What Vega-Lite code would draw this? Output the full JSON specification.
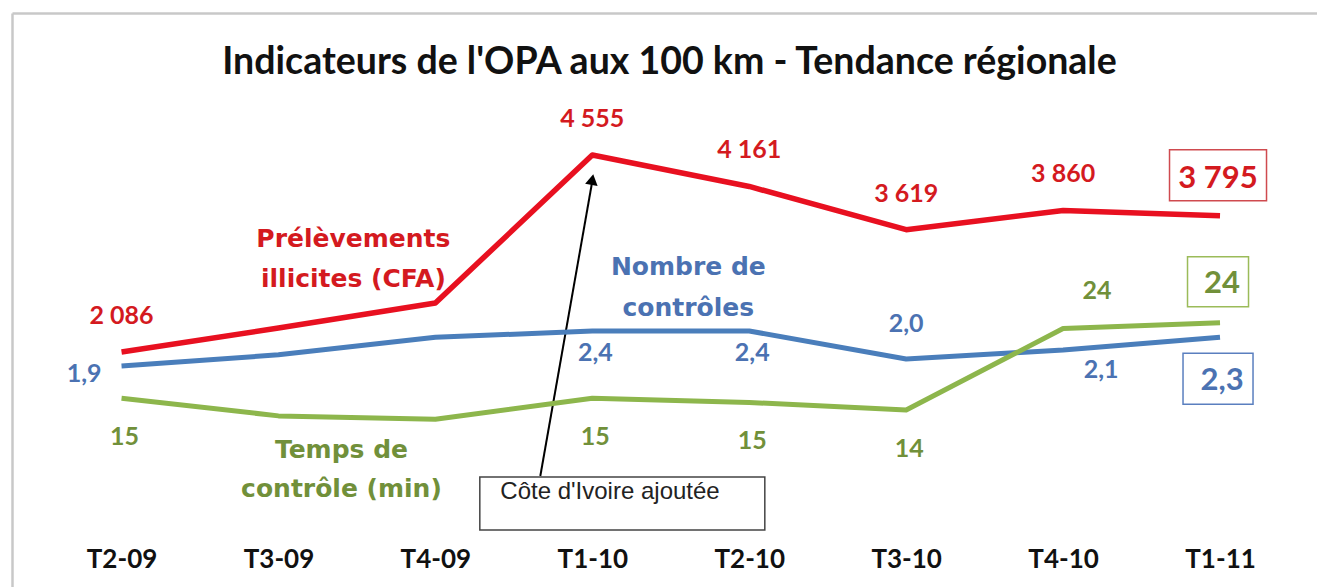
{
  "$schema": "https://vega.github.io/schema/vega-lite/v6.json",
  "width": 1305,
  "height": 574,
  "autosize": {"type": "none"},
  "padding": {"left": 12, "top": 13, "right": 0, "bottom": 0},
  "background": "white",
  "title": {"text": "Indicateurs de l'OPA aux 100 km - Tendance régionale", "font": "Lato", "fontSize": 37.5, "fontWeight": "bold", "color": "#111111", "anchor": "middle", "frame": "group", "offset": -68, "dx": 5},
  "config": {
    "view": {"stroke": null},
    "axis": {"grid": false},
    "locale": {"number": {"decimal": ",", "thousands": " ", "grouping": [3], "currency": ["", " €"]}}
  },
  "datasets": {
    "opa": [
      {"period": "T2-09", "i": 0, "prelevements": 2086, "nombre": 1.9, "temps": 15.4},
      {"period": "T3-09", "i": 1, "prelevements": 2387, "nombre": 2.06, "temps": 13.3},
      {"period": "T4-09", "i": 2, "prelevements": 2700, "nombre": 2.31, "temps": 12.9},
      {"period": "T1-10", "i": 3, "prelevements": 4555, "nombre": 2.4, "temps": 15.4},
      {"period": "T2-10", "i": 4, "prelevements": 4161, "nombre": 2.4, "temps": 14.9},
      {"period": "T3-10", "i": 5, "prelevements": 3619, "nombre": 2.0, "temps": 14.0},
      {"period": "T4-10", "i": 6, "prelevements": 3860, "nombre": 2.13, "temps": 23.7},
      {"period": "T1-11", "i": 7, "prelevements": 3795, "nombre": 2.31, "temps": 24.4}
    ]
  },
  "data": {"name": "opa"},
  "layer": [
    {
      "encoding": {
        "x": {"field": "i", "type": "quantitative", "scale": {"domain": [-0.698, 7.618], "nice": false, "zero": false},
              "axis": {"orient": "top", "domain": true, "domainColor": "#c8c8c8", "domainWidth": 2.5, "labels": false, "ticks": false, "grid": false, "title": null}},
        "y": {"field": "prelevements", "type": "quantitative", "scale": {"domain": [-859, 6335], "nice": false, "zero": false},
              "axis": {"orient": "left", "domain": true, "domainColor": "#c8c8c8", "domainWidth": 2.5, "labels": false, "ticks": false, "grid": false, "title": null}}
      },
      "layer": [
        {"mark": {"type": "line", "color": "#e81020", "strokeWidth": 5.5, "strokeJoin": "round"}},
        {"transform": [{"filter": "datum.i == 0 || (datum.i >= 3 && datum.i <= 6)"}],
         "mark": {"type": "text", "font": "Lato", "fontWeight": "bold", "fontSize": 25, "color": "#d41a1f", "align": "center", "baseline": "alphabetic", "dy": -28},
         "encoding": {"text": {"field": "prelevements", "format": ",d"}}},
        {"transform": [{"filter": "datum.i == 7"}],
         "mark": {"type": "rect", "width": 97, "height": 51, "fill": "white", "stroke": "#cf4a4f", "strokeWidth": 1.5, "xOffset": -2, "yOffset": -40.5}},
        {"transform": [{"filter": "datum.i == 7"}],
         "mark": {"type": "text", "font": "Lato", "fontWeight": "bold", "fontSize": 31, "color": "#d41a1f", "align": "center", "baseline": "alphabetic", "dy": -28, "dx": -2},
         "encoding": {"text": {"field": "prelevements", "format": ",d"}}},
        {"transform": [{"filter": "datum.i == 2"}],
         "mark": {"type": "text", "font": "DejaVu Sans", "fontWeight": "bold", "fontSize": 25, "color": "#d41a1f", "align": "center", "baseline": "alphabetic", "dx": -82, "dy": -56, "lineHeight": 40, "text": ["Prélèvements", "illicites (CFA)"]}},
        {"transform": [{"filter": "datum.i == 3"}],
         "mark": {"type": "rect", "width": 285, "height": 53, "fill": "white", "stroke": "#444444", "strokeWidth": 1.5, "xOffset": 30, "yOffset": 348.5}},
        {"transform": [{"filter": "datum.i == 3"}],
         "mark": {"type": "text", "font": "Liberation Sans", "fontSize": 24, "color": "#222222", "align": "left", "baseline": "alphabetic", "dx": -92, "dy": 344, "text": "Côte d'Ivoire ajoutée"}},
        {"transform": [{"filter": "datum.i == 3"}],
         "mark": {"type": "rule", "color": "black", "strokeWidth": 2, "xOffset": 0, "yOffset": 26, "x2Offset": -52, "y2Offset": 321},
         "encoding": {"x2": {"field": "i"}, "y2": {"field": "prelevements"}}},
        {"transform": [{"filter": "datum.i == 3"}],
         "mark": {"type": "point", "shape": "triangle-up", "size": 160, "filled": true, "color": "black", "opacity": 1, "angle": 10, "yOffset": 24.5}}
      ]
    },
    {
      "encoding": {
        "x": {"field": "i", "type": "quantitative", "scale": {"domain": [-0.698, 7.618], "nice": false, "zero": false},
              "axis": {"orient": "bottom", "domain": false, "ticks": false, "tickSize": 0, "grid": false, "title": null, "offset": -20, "labelPadding": 0,
                       "values": [0, 1, 2, 3, 4, 5, 6, 7], "labelExpr": "['T2-09','T3-09','T4-09','T1-10','T2-10','T3-10','T4-10','T1-11'][datum.value]",
                       "labelFont": "Lato", "labelFontSize": 26, "labelFontWeight": "bold", "labelColor": "#111111", "labelBaseline": "alphabetic",
                       "labelFlush": false, "labelOverlap": false, "labelBound": false}},
        "y": {"field": "nombre", "type": "quantitative", "scale": {"domain": [-1.257, 6.943], "nice": false, "zero": false}, "axis": null}
      },
      "layer": [
        {"mark": {"type": "line", "color": "#4a7ebb", "strokeWidth": 5, "strokeJoin": "round"}},
        {"transform": [{"filter": "datum.i == 0"}],
         "mark": {"type": "text", "font": "Lato", "fontWeight": "bold", "fontSize": 25, "color": "#4b72b2", "align": "right", "baseline": "alphabetic", "dx": -20, "dy": 16},
         "encoding": {"text": {"field": "nombre", "format": ".1f"}}},
        {"transform": [{"filter": "datum.i == 3 || datum.i == 4"}],
         "mark": {"type": "text", "font": "Lato", "fontWeight": "bold", "fontSize": 25, "color": "#4b72b2", "align": "center", "baseline": "alphabetic", "dx": 3, "dy": 29.5},
         "encoding": {"text": {"field": "nombre", "format": ".1f"}}},
        {"transform": [{"filter": "datum.i == 5"}],
         "mark": {"type": "text", "font": "Lato", "fontWeight": "bold", "fontSize": 25, "color": "#4b72b2", "align": "center", "baseline": "alphabetic", "dy": -27},
         "encoding": {"text": {"field": "nombre", "format": ".1f"}}},
        {"transform": [{"filter": "datum.i == 6"}],
         "mark": {"type": "text", "font": "Lato", "fontWeight": "bold", "fontSize": 25, "color": "#4b72b2", "align": "center", "baseline": "alphabetic", "dx": 38, "dy": 28},
         "encoding": {"text": {"field": "nombre", "format": ".1f"}}},
        {"transform": [{"filter": "datum.i == 7"}],
         "mark": {"type": "rect", "width": 70, "height": 51, "fill": "white", "stroke": "#5a7fbf", "strokeWidth": 1.5, "xOffset": -2, "yOffset": 41.5}},
        {"transform": [{"filter": "datum.i == 7"}],
         "mark": {"type": "text", "font": "Lato", "fontWeight": "bold", "fontSize": 31, "color": "#4b72b2", "align": "center", "baseline": "alphabetic", "dx": 2, "dy": 53},
         "encoding": {"text": {"field": "nombre", "format": ".1f"}}},
        {"transform": [{"filter": "datum.i == 3"}],
         "mark": {"type": "text", "font": "DejaVu Sans", "fontWeight": "bold", "fontSize": 25, "color": "#4b72b2", "align": "center", "baseline": "alphabetic", "dx": 96, "dy": -56, "lineHeight": 41, "text": ["Nombre de", "contrôles"]}}
      ]
    },
    {
      "encoding": {
        "x": {"field": "i", "type": "quantitative", "scale": {"domain": [-0.698, 7.618], "nice": false, "zero": false}, "axis": null},
        "y": {"field": "temps", "type": "quantitative", "scale": {"domain": [-7.071, 61.26], "nice": false, "zero": false}, "axis": null}
      },
      "layer": [
        {"mark": {"type": "line", "color": "#8db64c", "strokeWidth": 5, "strokeJoin": "round"}},
        {"transform": [{"filter": "datum.i == 0 || (datum.i >= 3 && datum.i <= 5)"}],
         "mark": {"type": "text", "font": "Lato", "fontWeight": "bold", "fontSize": 25, "color": "#71903a", "align": "center", "baseline": "alphabetic", "dx": 3, "dy": 47},
         "encoding": {"text": {"field": "temps", "format": ".0f"}}},
        {"transform": [{"filter": "datum.i == 6"}],
         "mark": {"type": "text", "font": "Lato", "fontWeight": "bold", "fontSize": 25, "color": "#71903a", "align": "center", "baseline": "alphabetic", "dx": 34, "dy": -30},
         "encoding": {"text": {"field": "temps", "format": ".0f"}}},
        {"transform": [{"filter": "datum.i == 7"}],
         "mark": {"type": "rect", "width": 61, "height": 50, "fill": "white", "stroke": "#9bbb59", "strokeWidth": 1.5, "xOffset": -2, "yOffset": -41}},
        {"transform": [{"filter": "datum.i == 7"}],
         "mark": {"type": "text", "font": "Lato", "fontWeight": "bold", "fontSize": 31, "color": "#71903a", "align": "center", "baseline": "alphabetic", "dx": 2, "dy": -30},
         "encoding": {"text": {"field": "temps", "format": ".0f"}}},
        {"transform": [{"filter": "datum.i == 1"}],
         "mark": {"type": "text", "font": "DejaVu Sans", "fontWeight": "bold", "fontSize": 25, "color": "#71903a", "align": "center", "baseline": "alphabetic", "dx": 63, "dy": 42, "lineHeight": 39, "text": ["Temps de", "contrôle (min)"]}}
      ]
    }
  ],
  "resolve": {"scale": {"y": "independent"}, "axis": {"x": "independent", "y": "independent"}}
}
